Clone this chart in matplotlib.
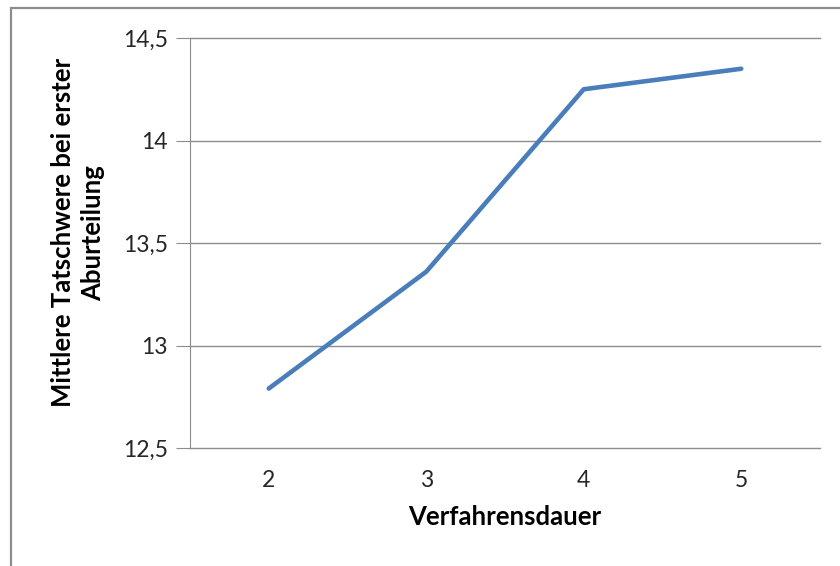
import matplotlib
matplotlib.use('Agg')
import matplotlib.pyplot as plt
from matplotlib.patches import Rectangle

dauer = ['2', '3', '4', '5']
tatschwere = [12.79, 13.36, 14.25, 14.35]
yticks = [12.5, 13, 13.5, 14, 14.5]
ytick_labels = ['12,5', '13', '13,5', '14', '14,5']

plt.rcParams['font.family'] = ['Lato', 'DejaVu Sans']

W, H = 840, 566
fig = plt.figure(figsize=(W / 100, H / 100), dpi=100)

# outer chart frame (runs off the right and bottom edges)
fig.patches.append(Rectangle((11 / W, -0.05), 1.0, 1 - 8 / H + 0.05,
                             transform=fig.transFigure, fill=False,
                             edgecolor='#8c8c8c', lw=1.6))

ax = fig.add_axes([190 / W, 1 - 448 / H, 630 / W, 410 / H])
x = range(len(dauer))
ax.plot(x, tatschwere, color='#4a7ebb', lw=3.3, solid_capstyle='round', zorder=3)

ax.set_xlim(-0.5, len(dauer) - 0.5)
ax.set_ylim(12.5, 14.5)
ax.set_xticks(list(x))
ax.set_xticklabels(dauer)
ax.set_yticks(yticks)
ax.set_yticklabels(ytick_labels)
for t in yticks:
    ax.axhline(t, color='#8c8c8c', lw=1, clip_on=False, zorder=1)

for s in ['top', 'right', 'bottom']:
    ax.spines[s].set_visible(False)
ax.spines['left'].set_color('#8c8c8c')
ax.tick_params(axis='y', length=10, color='#8c8c8c', labelsize=16.5, pad=6,
               labelcolor='#262626')
ax.tick_params(axis='x', length=0, labelsize=16.5, pad=16, labelcolor='#262626')

ax.set_xlabel('Verfahrensdauer', fontsize=18.5, fontweight='bold', labelpad=10)
ax.set_ylabel('Mittlere Tatschwere bei erster\nAburteilung', fontsize=18.5,
              fontweight='bold', linespacing=1.3)
ax.yaxis.set_label_coords(-0.135, 0.525)

fig.savefig('out.png', dpi=100)
